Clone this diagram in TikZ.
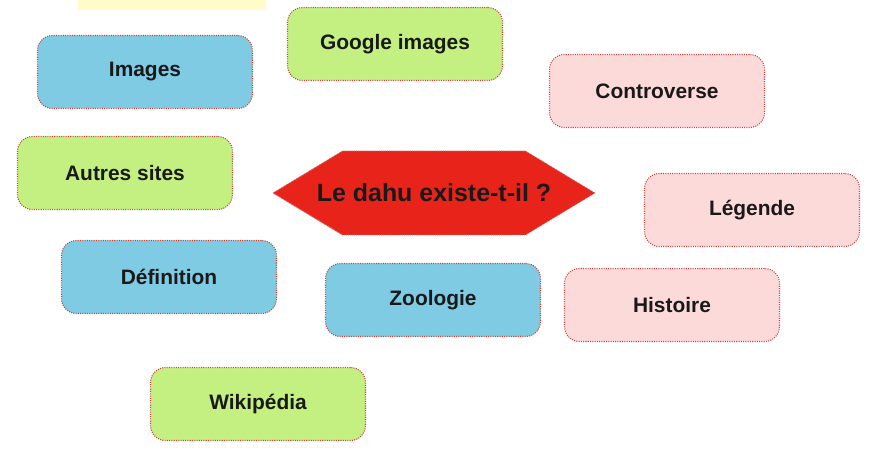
\documentclass[tikz,border=0pt]{standalone}
\usepackage{fontspec}
\setmainfont{Liberation Sans}
\usepackage{tikz}
\usetikzlibrary{calc, positioning}
\usepackage{xcolor}
\definecolor{bleu}{HTML}{7FCBE3}
\definecolor{vert}{HTML}{C3F080}
\definecolor{rose}{HTML}{FDDADA}
\definecolor{rouge}{HTML}{E8231A}
\definecolor{jaune}{HTML}{FFFCC9}
\definecolor{pointille}{HTML}{C8453C}
\tikzset{
    boite/.style = {rounded corners=0.3cm, minimum width=4.3cm, minimum height=1.46cm,
        draw=pointille, line width=0.6pt, dash pattern=on 0.6pt off 0.7pt,
        font=\fontsize{11.9}{14}\selectfont\bfseries, text=black!90},
}
\newcommand{\drawB}[5][bleu]{
    \node[boite, fill=#1] (#4) at (#2, #3) {#5};
}

\begin{document}
\begin{tikzpicture}
    \useasboundingbox (0,0) rectangle (17.82,-9.42);
    %Bandeau
        \fill[jaune] (1.56,0) rectangle (5.32,-0.20);

    % Centre
        \coordinate (centre) at (8.68,-3.86);
        \fill[rouge] ($(centre)+(-3.22,0)$) -- ++(1.39,0.84) -- ++(3.66,0)
            -- ++(1.39,-0.84) -- ++(-1.39,-0.84) -- ++(-3.66,0) -- cycle;
        \draw[pointille!70, line width=0.5pt, dash pattern=on 0.5pt off 0.6pt]
            ($(centre)+(-3.22,0)$) -- ++(1.39,0.84) -- ++(3.66,0)
            -- ++(1.39,-0.84) -- ++(-1.39,-0.84) -- ++(-3.66,0) -- cycle;
        \node[font=\fontsize{14.2}{16}\selectfont\bfseries, text=black!90] (dahu) at (centre) {Le dahu existe-t-il ?};

    % Boites
        \drawB[bleu]{2.90}{-1.44}{images}{Images}
        \drawB[vert]{7.90}{-0.88}{google}{Google images}
        \drawB[rose]{13.14}{-1.82}{controverse}{Controverse}
        \drawB[vert]{2.50}{-3.46}{autres}{Autres sites}
        \drawB[rose]{15.04}{-4.20}{legende}{Légende}
        \drawB[bleu]{3.38}{-5.54}{definition}{Définition}
        \drawB[bleu]{8.66}{-6.00}{zoologie}{Zoologie}
        \drawB[rose]{13.44}{-6.10}{histoire}{Histoire}
        \drawB[vert]{5.16}{-8.08}{wikipedia}{Wikipédia}
\end{tikzpicture}
\end{document}
